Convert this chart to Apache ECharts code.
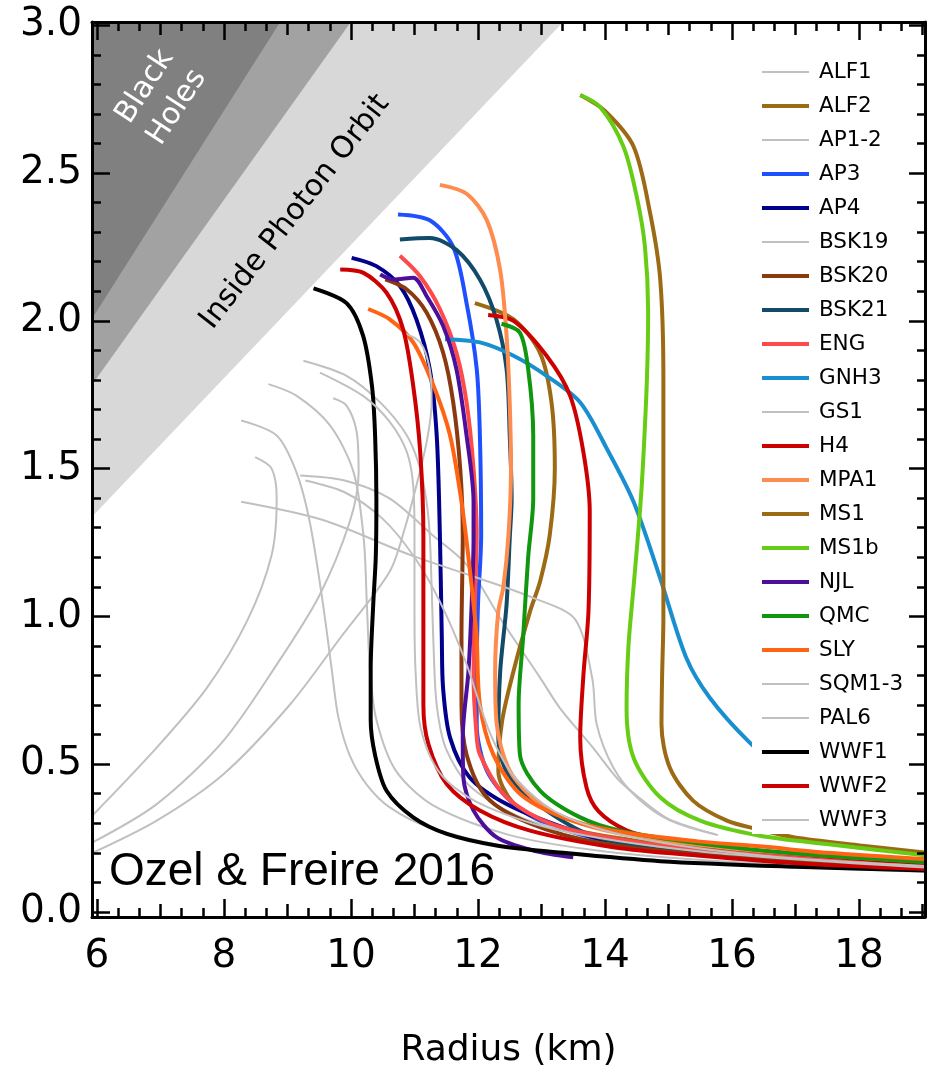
<!DOCTYPE html>
<html>
<head>
<meta charset="utf-8">
<script src="https://cdn.jsdelivr.net/npm/echarts@6/dist/echarts.min.js"></script>
<style>
  html, body { margin: 0; padding: 0; background: #fff; }
  #chart { width: 936px; height: 1074px; }
</style>
</head>
<body>
<div id="chart"></div>
<script>
// axis ticks
const radiusTicks = [6, 8, 10, 12, 14, 16, 18];
const radiusMid = [7, 9, 11, 13, 15, 17, 19];
const massTicks = [0, 0.5, 1.0, 1.5, 2.0, 2.5, 3.0];

// shaded limits (edge lines)
const blackHoleEdge = [[5.9, 2.0], [9.0, 3.05]];
const buchdahlEdge = [[5.9, 1.777], [10.05, 3.027]];
const photonEdge = [[5.9, 1.332], [13.35, 3.013]];

// mass-radius curves [radius km, mass Msun]
const alf1 = [[9.20, 1.477], [9.9, 1.46], [10.6, 1.40], [11.29, 1.274], [11.83, 1.173], [12.35, 0.994], [12.98, 0.792], [13.29, 0.69], [13.81, 0.556], [14.2, 0.45], [14.55, 0.385], [15.0, 0.315], [15.75, 0.262]];
const alf2 = [[11.95, 2.06], [12.56, 2.005], [12.98, 1.89], [13.16, 1.72], [13.21, 1.50], [13.13, 1.275], [12.98, 1.12], [12.82, 1.017], [12.56, 0.815], [12.38, 0.646], [12.32, 0.478], [12.55, 0.37], [13.1, 0.30], [14.2, 0.25], [15.5, 0.215], [17, 0.19], [19.1, 0.168]];
const ap1 = [[8.27, 1.663], [8.83, 1.612], [9.14, 1.488], [9.35, 1.32], [9.56, 1.04], [9.70, 0.815], [9.80, 0.66], [9.98, 0.53], [10.25, 0.43], [10.61, 0.354], [11.24, 0.286], [12.5, 0.22], [14, 0.185], [16, 0.16], [19.1, 0.135]];
const ap2 = [[8.70, 1.786], [9.14, 1.747], [9.67, 1.646], [10.04, 1.488], [10.2, 1.264], [10.25, 1.04], [10.3, 0.815], [10.4, 0.65], [10.7, 0.48], [11.3, 0.36], [12.5, 0.26], [14, 0.205], [16, 0.17], [19.1, 0.142]];
const ap3 = [[10.74, 2.36], [11.24, 2.34], [11.61, 2.25], [11.82, 2.06], [11.98, 1.837], [12.03, 1.612], [12.05, 1.275], [12.0, 1.04], [11.98, 0.815], [11.98, 0.635], [12.14, 0.478], [12.56, 0.365], [13.08, 0.30], [14.13, 0.236], [15.5, 0.202], [17, 0.178], [19.1, 0.156]];
const ap4 = [[10.01, 2.213], [10.40, 2.185], [10.77, 2.118], [11.03, 2.005], [11.24, 1.837], [11.35, 1.612], [11.40, 1.275], [11.43, 0.93], [11.45, 0.758], [11.56, 0.59], [11.87, 0.455], [12.45, 0.365], [13.34, 0.286], [14.13, 0.236], [15.5, 0.20], [17, 0.175], [19.1, 0.152]];
const bsk19 = [[9.25, 1.865], [9.93, 1.814], [10.46, 1.724], [10.88, 1.612], [11.09, 1.50], [11.19, 1.388], [11.24, 1.275], [11.27, 1.10], [11.3, 0.90], [11.35, 0.70], [11.5, 0.55], [11.9, 0.42], [12.8, 0.31], [14.5, 0.235], [16.5, 0.185], [19.1, 0.152]];
const bsk20 = [[10.54, 2.14], [10.88, 2.106], [11.19, 2.028], [11.45, 1.893], [11.61, 1.724], [11.72, 1.50], [11.76, 1.275], [11.74, 0.93], [11.74, 0.702], [11.82, 0.533], [12.14, 0.388], [12.82, 0.30], [13.87, 0.236], [15.5, 0.20], [17, 0.175], [19.1, 0.153]];
const bsk21 = [[10.77, 2.275], [11.24, 2.28], [11.66, 2.24], [12.03, 2.14], [12.29, 2.005], [12.45, 1.837], [12.50, 1.612], [12.53, 1.40], [12.50, 1.264], [12.45, 1.04], [12.35, 0.815], [12.32, 0.59], [12.50, 0.455], [13.08, 0.343], [13.87, 0.253], [15, 0.218], [17, 0.183], [19.1, 0.16]];
const eng = [[10.77, 2.22], [11.09, 2.15], [11.40, 2.04], [11.66, 1.893], [11.82, 1.724], [11.93, 1.50], [11.98, 1.275], [11.95, 1.04], [11.93, 0.80], [11.97, 0.62], [12.03, 0.533], [12.45, 0.388], [13.2, 0.295], [14.5, 0.236], [16, 0.20], [19.1, 0.155]];
const gnh3 = [[11.48, 1.938], [12.03, 1.927], [12.56, 1.882], [13.08, 1.814], [13.61, 1.724], [14.03, 1.567], [14.45, 1.388], [14.87, 1.129], [15.28, 0.86], [15.65, 0.725], [16.28, 0.573], [16.9, 0.46], [17.4, 0.40]];
const gs1 = [[8.27, 1.388], [9.56, 1.326], [10.93, 1.208], [12.0, 1.13], [12.9, 1.06], [13.53, 0.99], [13.80, 0.79], [13.87, 0.634], [14.13, 0.489], [14.5, 0.388], [15.02, 0.31], [15.78, 0.26]];
const h4 = [[12.16, 2.02], [12.56, 2.0], [13.08, 1.882], [13.45, 1.747], [13.66, 1.556], [13.76, 1.354], [13.74, 1.017], [13.66, 0.80], [13.61, 0.59], [13.71, 0.42], [13.9, 0.34], [14.34, 0.276], [14.87, 0.247], [16, 0.215], [17.5, 0.188], [19.1, 0.163]];
const mpa1 = [[11.40, 2.46], [11.82, 2.43], [12.14, 2.34], [12.35, 2.17], [12.45, 1.95], [12.50, 1.72], [12.52, 1.50], [12.48, 1.275], [12.40, 1.10], [12.32, 1.017], [12.27, 0.815], [12.29, 0.646], [12.50, 0.478], [12.98, 0.365], [13.61, 0.30], [14.5, 0.255], [16, 0.215], [17.5, 0.19], [19.1, 0.17]];
const ms1 = [[13.61, 2.764], [14.0, 2.71], [14.45, 2.59], [14.71, 2.365], [14.87, 2.14], [14.92, 1.80], [14.92, 1.466], [14.92, 1.0], [14.90, 0.80], [14.89, 0.635], [15.02, 0.489], [15.39, 0.376], [15.92, 0.309], [16.39, 0.281], [16.97, 0.253], [18.02, 0.225], [19.1, 0.20]];
const ms1b = [[13.61, 2.764], [13.92, 2.724], [14.29, 2.59], [14.50, 2.42], [14.63, 2.25], [14.68, 2.03], [14.66, 1.80], [14.60, 1.52], [14.55, 1.354], [14.45, 1.10], [14.37, 0.90], [14.34, 0.69], [14.45, 0.522], [14.87, 0.388], [15.50, 0.309], [16.44, 0.258], [17.49, 0.23], [19.1, 0.19]];
const njl = [[10.46, 2.157], [10.67, 2.14], [10.98, 2.146], [11.19, 2.084], [11.45, 1.983], [11.66, 1.837], [11.82, 1.612], [11.93, 1.388], [11.93, 1.264], [11.90, 1.04], [11.85, 0.815], [11.76, 0.59], [11.77, 0.455], [11.93, 0.343], [12.29, 0.253], [12.87, 0.208], [13.50, 0.185]];
const qmc = [[12.37, 1.99], [12.66, 1.96], [12.79, 1.837], [12.87, 1.612], [12.87, 1.40], [12.79, 1.20], [12.71, 0.927], [12.64, 0.702], [12.66, 0.533], [12.98, 0.41], [13.61, 0.32], [14.24, 0.275], [15.5, 0.232], [17, 0.198], [19.1, 0.168]];
const sly = [[10.27, 2.04], [10.61, 2.005], [10.98, 1.927], [11.30, 1.78], [11.56, 1.612], [11.74, 1.388], [11.85, 1.20], [11.95, 1.0], [11.98, 0.927], [12.03, 0.702], [12.24, 0.533], [12.66, 0.40], [13.34, 0.32], [14.13, 0.275], [15.5, 0.238], [16.44, 0.222], [17.5, 0.20], [19.1, 0.178]];
const sqm1 = [[5.9, 0.32], [6.94, 0.556], [7.73, 0.758], [8.36, 0.983], [8.75, 1.208], [8.83, 1.399], [8.75, 1.50], [8.49, 1.539]];
const sqm2 = [[5.9, 0.232], [6.94, 0.365], [7.99, 0.579], [8.83, 0.837], [9.5, 1.07], [9.98, 1.32], [10.12, 1.488], [10.09, 1.623], [9.93, 1.713], [9.72, 1.738]];
const sqm3 = [[5.9, 0.197], [6.94, 0.309], [7.99, 0.466], [9.04, 0.702], [9.83, 0.927], [10.61, 1.152], [10.85, 1.30], [11.05, 1.46], [11.2, 1.60], [11.27, 1.724], [11.24, 1.837], [11.09, 1.927], [10.82, 1.96]];
const pal6 = [[9.28, 1.46], [9.9, 1.42], [10.5, 1.33], [11.0, 1.20], [11.4, 1.05], [11.8, 0.85], [12.2, 0.60], [12.6, 0.45], [13.3, 0.33], [14.5, 0.25], [16.5, 0.19], [19.1, 0.155]];
const wwf1 = [[9.41, 2.11], [9.93, 2.06], [10.19, 1.95], [10.33, 1.78], [10.38, 1.61], [10.40, 1.39], [10.39, 1.20], [10.35, 1.04], [10.31, 0.82], [10.31, 0.65], [10.38, 0.53], [10.56, 0.41], [10.98, 0.32], [11.51, 0.264], [12.29, 0.225], [13.34, 0.20], [14.87, 0.172], [17, 0.153], [19.1, 0.14]];
const wwf2 = [[9.83, 2.174], [10.19, 2.163], [10.56, 2.095], [10.82, 1.972], [10.98, 1.78], [11.09, 1.556], [11.14, 1.275], [11.14, 0.93], [11.14, 0.70], [11.22, 0.567], [11.51, 0.432], [12.03, 0.343], [12.82, 0.275], [14.13, 0.219], [15.5, 0.19], [17, 0.165], [19.1, 0.145]];
const wwf3 = [[9.51, 1.825], [10.19, 1.746], [10.61, 1.658], [10.88, 1.556], [10.98, 1.443], [11.0, 1.275], [11.0, 1.0], [11.02, 0.80], [11.1, 0.62], [11.4, 0.47], [12.0, 0.37], [13.2, 0.28], [15.5, 0.205], [19.1, 0.15]];

const legendNames = ['ALF1', 'ALF2', 'AP1-2', 'AP3', 'AP4', 'BSK19', 'BSK20', 'BSK21', 'ENG', 'GNH3', 'GS1', 'H4', 'MPA1', 'MS1', 'MS1b', 'NJL', 'QMC', 'SLY', 'SQM1-3', 'PAL6', 'WWF1', 'WWF2', 'WWF3'];

const gray = '#c0c0c0';
const font = 'DejaVu Sans';

// minor ticks, thirds of a km and tenths of a solar mass
const radiusMinor = [];
for (let r = 5; r <= 19; r++) {
  radiusMinor.push(r + 1 / 3, r + 2 / 3);
}
const massMinor = [];
for (let i = 0; i < 30; i++) {
  if (i % 5 !== 0) massMinor.push(i / 10);
}

const rMin = 5.921, rMax = 19.04, mMin = -0.017, mMax = 3.011;

function curve(name, data, color, width) {
  return {
    type: 'line', name: name, data: data, symbol: 'none', smooth: 0.3,
    lineStyle: {color: color, width: width}, itemStyle: {color: color},
    silent: true, z: 2
  };
}

function shade(data, color) {
  return {
    type: 'line', data: data, symbol: 'none', silent: true, z: 1,
    lineStyle: {width: 0, opacity: 0},
    areaStyle: {origin: 'end', color: color, opacity: 1}
  };
}

function xAxisOf(pos, ticks, len, extra) {
  return Object.assign({
    type: 'value', position: pos, min: rMin, max: rMax, z: 5,
    axisLine: {show: false, onZero: false},
    axisTick: {show: true, inside: true, length: len, customValues: ticks,
               lineStyle: {color: '#000', width: 2.5}},
    axisLabel: {show: false},
    splitLine: {show: false}
  }, extra || {});
}

function yAxisOf(pos, ticks, len, extra) {
  return Object.assign({
    type: 'value', position: pos, min: mMin, max: mMax, z: 5,
    axisLine: {show: false, onZero: false},
    axisTick: {show: true, inside: true, length: len, customValues: ticks,
               lineStyle: {color: '#000', width: 2.5}},
    axisLabel: {show: false},
    splitLine: {show: false}
  }, extra || {});
}

const frameLine = {show: true, onZero: false, lineStyle: {color: '#000', width: 3}};

const chart = echarts.init(document.getElementById('chart'));

chart.setOption({
  animation: false,
  backgroundColor: '#fff',
  grid: {left: 92, top: 22, right: 11, bottom: 154},
  title: {
    text: 'Ozel & Freire 2016', left: 109, top: 849, padding: 0,
    textStyle: {fontFamily: 'Liberation Sans', fontSize: 46, fontWeight: 'normal', color: '#000'}
  },
  legend: {
    data: legendNames, orient: 'vertical', left: 752, top: 52,
    padding: [8, 4, 2, 8], itemGap: 10, itemWidth: 47, itemHeight: 14,
    backgroundColor: '#fff', selectedMode: false,
    lineStyle: {width: 'inherit'},
    itemStyle: {opacity: 0},
    textStyle: {fontFamily: font, fontSize: 21.5, color: '#000', lineHeight: 24, padding: [0, 0, 0, 5]}
  },
  xAxis: [
    xAxisOf('bottom', radiusTicks, 18, {
      axisLine: frameLine,
      axisLabel: {show: true, customValues: radiusTicks, margin: 20, color: '#000', fontFamily: font, fontSize: 39},
      name: 'Radius (km)', nameLocation: 'middle', nameGap: 116,
      nameTextStyle: {fontFamily: font, fontSize: 36, color: '#000'}
    }),
    xAxisOf('bottom', radiusMid, 13),
    xAxisOf('bottom', radiusMinor, 9),
    xAxisOf('top', radiusTicks, 18, {axisLine: frameLine}),
    xAxisOf('top', radiusMid, 13),
    xAxisOf('top', radiusMinor, 9)
  ],
  yAxis: [
    yAxisOf('left', massTicks, 18, {
      axisLine: frameLine,
      axisLabel: {show: true, customValues: massTicks, margin: 10, color: '#000', fontFamily: font, fontSize: 39,
                  formatter: v => v.toFixed(1)}
    }),
    yAxisOf('left', massMinor, 9),
    yAxisOf('right', massTicks, 16, {axisLine: frameLine}),
    yAxisOf('right', massMinor, 8)
  ],
  graphic: [
    {type: 'text', x: 161, y: 97, rotation: 57 * Math.PI / 180, z: 20,
     style: {text: 'Black\nHoles', fill: '#fff', font: '30px "DejaVu Sans"', align: 'center', verticalAlign: 'middle', lineHeight: 38}},
    {type: 'text', x: 295, y: 212, rotation: 52 * Math.PI / 180, z: 20,
     style: {text: 'Inside Photon Orbit', fill: '#000', font: '30px "DejaVu Sans"', align: 'center', verticalAlign: 'middle'}}
  ],
  series: [
    shade(photonEdge, '#d8d8d8'),
    shade(buchdahlEdge, '#a2a2a2'),
    shade(blackHoleEdge, '#808080'),
    curve('ALF1', alf1, gray, 2),
    curve('ALF2', alf2, '#9c6a14', 4),
    curve('AP1-2', ap1, gray, 2),
    curve('AP1-2', ap2, gray, 2),
    curve('AP3', ap3, '#1f50ff', 4),
    curve('AP4', ap4, '#00008b', 4),
    curve('BSK19', bsk19, gray, 2),
    curve('BSK20', bsk20, '#8b3a10', 4),
    curve('BSK21', bsk21, '#124a6a', 4),
    curve('ENG', eng, '#ff4a4a', 4),
    curve('GNH3', gnh3, '#1a8fd0', 4),
    curve('GS1', gs1, gray, 2),
    curve('H4', h4, '#cc0000', 4),
    curve('MPA1', mpa1, '#ff8c4f', 4),
    curve('MS1', ms1, '#9c6a14', 4),
    curve('MS1b', ms1b, '#66cc14', 4),
    curve('NJL', njl, '#4b0f9b', 4),
    curve('QMC', qmc, '#10960f', 4),
    curve('SLY', sly, '#ff6414', 4),
    curve('SQM1-3', sqm1, gray, 2),
    curve('SQM1-3', sqm2, gray, 2),
    curve('SQM1-3', sqm3, gray, 2),
    curve('PAL6', pal6, gray, 2),
    curve('WWF1', wwf1, '#000000', 4),
    curve('WWF2', wwf2, '#cc0000', 4),
    curve('WWF3', wwf3, gray, 2)
  ]
});
</script>
</body>
</html>
